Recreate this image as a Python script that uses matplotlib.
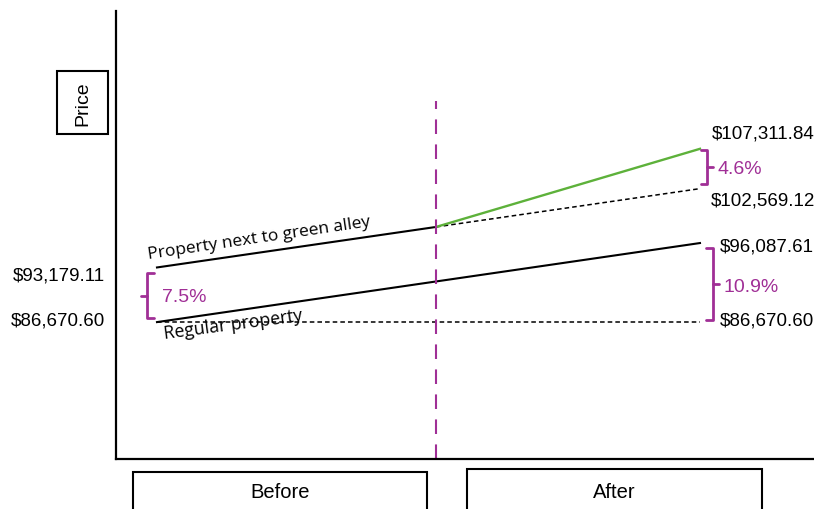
import matplotlib
matplotlib.use("Agg")
import matplotlib.pyplot as plt
from matplotlib.patches import Rectangle

plt.rcParams['font.family'] = ['Liberation Sans', 'DejaVu Sans']

# prices before and after the alley was greened
green_alley = [93179.11, 102569.12]      # expected trend without the green alley
green_alley_after = 107311.84            # observed after greening
regular = [86670.60, 96087.61]
regular_flat = [86670.60, 86670.60]
pct_labels = ["7.5%", "4.6%", "10.9%"]
period_labels = ["Before", "After"]

x_pos = [0, 1]
x_mid = 0.514
purple = "#a02f96"
green = "#5db13a"

fig = plt.figure(figsize=(8.14, 5.10), dpi=100)
ax = fig.add_axes([0.1425, 0.098, 0.8575, 0.878])
ax.set_xlim(-0.0755, 1.21)
ax.set_ylim(70360, 123700)
for s in ["top", "right"]:
    ax.spines[s].set_visible(False)
for s in ["left", "bottom"]:
    ax.spines[s].set_linewidth(1.6)
ax.set_xticks([])
ax.set_yticks([])

# green alley property: solid up to the intervention, then split
mid_val = green_alley[0] + (green_alley[1] - green_alley[0]) * x_mid
ax.plot([x_pos[0], x_mid], [green_alley[0], mid_val], color="black", lw=1.5)
ax.plot([x_mid, x_pos[1]], [mid_val, green_alley[1]], color="black", lw=1.1, ls=(0, (3, 2)))
ax.plot([x_mid, x_pos[1]], [mid_val, green_alley_after], color=green, lw=1.7)

# regular property
ax.plot(x_pos, regular, color="black", lw=1.5)
ax.plot(x_pos, regular_flat, color="black", lw=1.1, ls=(0, (3, 2)))

# intervention marker
ax.plot([x_mid, x_mid], [70360, 113000], color=purple, lw=1.5, ls=(0, (7, 5)))

# line labels
ax.text(-0.015, green_alley[0] + 700, "Property next to green alley", fontsize=12.5,
        family=["Open Sans", "DejaVu Sans"], rotation=8.4, rotation_mode="anchor",
        ha="left", va="bottom")
ax.text(0.015, regular[0] - 2400, "Regular property", fontsize=12.8,
        family=["Open Sans", "DejaVu Sans"], rotation=7.5, rotation_mode="anchor",
        ha="left", va="bottom")


def bracket(x, y0, y1, side, tick, stub=0.012, lw=2.0):
    # side: direction of the end stubs, tick: direction of the middle point
    ym = (y0 + y1) / 2
    ax.plot([x + side * stub, x, x, x + side * stub], [y0, y0, y1, y1],
            color=purple, lw=lw, solid_joinstyle="round", solid_capstyle="round")
    ax.plot([x, x + tick * stub * 0.9], [ym, ym], color=purple, lw=lw,
            solid_capstyle="round")


bracket(-0.018, regular_flat[0] + 450, green_alley[0] - 650, 1, -1)
bracket(1.013, green_alley[1] + 500, green_alley_after - 200, -1, 1)
bracket(1.024, regular_flat[1] + 300, regular[1] - 650, -1, 1)

ax.text(0.01, (regular_flat[0] + green_alley[0]) / 2 - 150, pct_labels[0],
        color=purple, fontsize=14, ha="left", va="center")
ax.text(1.033, (green_alley[1] + green_alley_after) / 2, pct_labels[1],
        color=purple, fontsize=14, ha="left", va="center")
ax.text(1.044, (regular_flat[1] + regular[1]) / 2 - 500, pct_labels[2],
        color=purple, fontsize=14, ha="left", va="center")

# value labels
ax.text(-0.096, green_alley[0] - 900, f"${green_alley[0]:,.2f}", fontsize=13.5,
        ha="right", va="center", clip_on=False)
ax.text(-0.096, regular_flat[0] + 300, f"${regular_flat[0]:,.2f}", fontsize=13.5,
        ha="right", va="center", clip_on=False)
ax.text(1.022, green_alley_after + 1900, f"${green_alley_after:,.2f}", fontsize=13.5,
        ha="left", va="center")
ax.text(1.02, green_alley[1] - 1300, f"${green_alley[1]:,.2f}", fontsize=13.5,
        ha="left", va="center")
ax.text(1.037, regular[1] - 300, f"${regular[1]:,.2f}", fontsize=13.5,
        ha="left", va="center")
ax.text(1.037, regular_flat[1] + 300, f"${regular_flat[1]:,.2f}", fontsize=13.5,
        ha="left", va="center")

# axis title box
fig.patches.append(Rectangle((57 / 814, 1 - 135 / 510), 51 / 814, 63 / 510,
                             transform=fig.transFigure, fill=False, lw=1.5,
                             edgecolor="black"))
fig.text(82.5 / 814, 1 - 103.5 / 510, "Price", rotation=90, fontsize=14,
         ha="center", va="center")

# period boxes below the axis
box_x = [(133, 427, 473), (467, 762, 470)]
for (x0, x1, top), lab in zip(box_x, period_labels):
    fig.patches.append(Rectangle((x0 / 814, -0.05), (x1 - x0) / 814, 1 - top / 510 + 0.05,
                                 transform=fig.transFigure, fill=False, lw=1.5,
                                 edgecolor="black"))
    fig.text((x0 + x1) / 2 / 814, 1 - 493 / 510, lab, fontsize=14.5,
             ha="center", va="center")

fig.savefig("out.png", dpi=100)
